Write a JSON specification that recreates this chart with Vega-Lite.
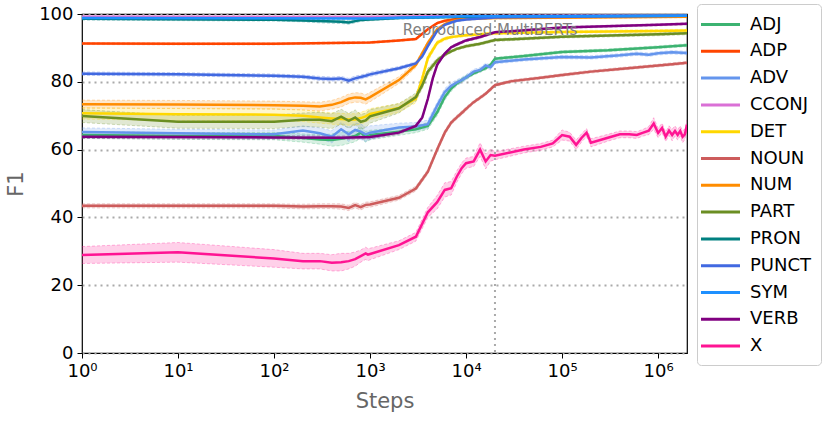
{
  "$schema": "https://vega.github.io/schema/vega-lite/v6.json",
  "width": 605,
  "height": 339,
  "autosize": {"type": "none"},
  "padding": {"left": 82, "top": 14, "right": 143, "bottom": 68},
  "background": "white",
  "datasets": {
    "f1": [
      {"tag": "ADJ", "step": 1, "f1": 64.3, "lo": 63.3, "hi": 65.3},
      {"tag": "ADJ", "step": 10, "f1": 64.0, "lo": 63.0, "hi": 65.0},
      {"tag": "ADJ", "step": 100, "f1": 64.0, "lo": 62.9, "hi": 65.1},
      {"tag": "ADJ", "step": 200, "f1": 63.4, "lo": 62.2, "hi": 64.6},
      {"tag": "ADJ", "step": 300, "f1": 63.0, "lo": 61.6, "hi": 64.4},
      {"tag": "ADJ", "step": 400, "f1": 62.8, "lo": 61.0, "hi": 64.6},
      {"tag": "ADJ", "step": 500, "f1": 63.2, "lo": 61.2, "hi": 65.2},
      {"tag": "ADJ", "step": 600, "f1": 63.6, "lo": 61.8, "hi": 65.4},
      {"tag": "ADJ", "step": 700, "f1": 64.0, "lo": 62.3, "hi": 65.7},
      {"tag": "ADJ", "step": 800, "f1": 65.0, "lo": 63.4, "hi": 66.6},
      {"tag": "ADJ", "step": 900, "f1": 63.8, "lo": 62.2, "hi": 65.4},
      {"tag": "ADJ", "step": 1000, "f1": 64.3, "lo": 62.9, "hi": 65.7},
      {"tag": "ADJ", "step": 2000, "f1": 65.3, "lo": 64.2, "hi": 66.4},
      {"tag": "ADJ", "step": 3000, "f1": 66.0, "lo": 65.0, "hi": 67.0},
      {"tag": "ADJ", "step": 4000, "f1": 67.0, "lo": 66.0, "hi": 68.0},
      {"tag": "ADJ", "step": 5000, "f1": 71.0, "lo": 70.0, "hi": 72.0},
      {"tag": "ADJ", "step": 6000, "f1": 75.5, "lo": 74.6, "hi": 76.4},
      {"tag": "ADJ", "step": 7000, "f1": 78.0, "lo": 77.2, "hi": 78.8},
      {"tag": "ADJ", "step": 8000, "f1": 79.5, "lo": 78.8, "hi": 80.2},
      {"tag": "ADJ", "step": 9000, "f1": 80.5, "lo": 79.9, "hi": 81.1},
      {"tag": "ADJ", "step": 10000, "f1": 81.3, "lo": 80.7, "hi": 81.9},
      {"tag": "ADJ", "step": 12000, "f1": 82.5, "lo": 82.0, "hi": 83.0},
      {"tag": "ADJ", "step": 14000, "f1": 83.3, "lo": 82.8, "hi": 83.8},
      {"tag": "ADJ", "step": 16000, "f1": 84.0, "lo": 83.5, "hi": 84.5},
      {"tag": "ADJ", "step": 18000, "f1": 85.0, "lo": 84.5, "hi": 85.5},
      {"tag": "ADJ", "step": 20000, "f1": 86.8, "lo": 86.4, "hi": 87.2},
      {"tag": "ADJ", "step": 40000, "f1": 87.6, "lo": 87.2, "hi": 88.0},
      {"tag": "ADJ", "step": 100000, "f1": 88.8, "lo": 88.4, "hi": 89.2},
      {"tag": "ADJ", "step": 300000, "f1": 89.3, "lo": 88.9, "hi": 89.7},
      {"tag": "ADJ", "step": 1000000, "f1": 90.2, "lo": 89.8, "hi": 90.6},
      {"tag": "ADJ", "step": 2000000, "f1": 90.8, "lo": 90.4, "hi": 91.2},

      {"tag": "ADP", "step": 1, "f1": 91.3, "lo": 91.0, "hi": 91.6},
      {"tag": "ADP", "step": 10, "f1": 91.2, "lo": 90.9, "hi": 91.5},
      {"tag": "ADP", "step": 100, "f1": 91.2, "lo": 90.9, "hi": 91.5},
      {"tag": "ADP", "step": 1000, "f1": 91.6, "lo": 91.3, "hi": 91.9},
      {"tag": "ADP", "step": 2000, "f1": 92.2, "lo": 91.9, "hi": 92.5},
      {"tag": "ADP", "step": 3000, "f1": 92.6, "lo": 92.3, "hi": 92.9},
      {"tag": "ADP", "step": 4000, "f1": 95.5, "lo": 95.2, "hi": 95.8},
      {"tag": "ADP", "step": 5000, "f1": 97.3, "lo": 97.0, "hi": 97.6},
      {"tag": "ADP", "step": 6000, "f1": 98.0, "lo": 97.8, "hi": 98.2},
      {"tag": "ADP", "step": 8000, "f1": 98.5, "lo": 98.3, "hi": 98.7},
      {"tag": "ADP", "step": 10000, "f1": 98.8, "lo": 98.6, "hi": 99.0},
      {"tag": "ADP", "step": 20000, "f1": 99.0, "lo": 98.8, "hi": 99.2},
      {"tag": "ADP", "step": 2000000, "f1": 99.3, "lo": 99.1, "hi": 99.5},

      {"tag": "ADV", "step": 1, "f1": 65.2, "lo": 64.0, "hi": 66.4},
      {"tag": "ADV", "step": 10, "f1": 64.8, "lo": 63.6, "hi": 66.0},
      {"tag": "ADV", "step": 100, "f1": 64.5, "lo": 63.2, "hi": 65.8},
      {"tag": "ADV", "step": 200, "f1": 65.6, "lo": 64.2, "hi": 67.0},
      {"tag": "ADV", "step": 300, "f1": 64.8, "lo": 63.2, "hi": 66.4},
      {"tag": "ADV", "step": 400, "f1": 63.8, "lo": 62.0, "hi": 65.6},
      {"tag": "ADV", "step": 500, "f1": 66.0, "lo": 64.0, "hi": 68.0},
      {"tag": "ADV", "step": 600, "f1": 64.5, "lo": 62.4, "hi": 66.6},
      {"tag": "ADV", "step": 700, "f1": 65.8, "lo": 63.8, "hi": 67.8},
      {"tag": "ADV", "step": 800, "f1": 65.3, "lo": 63.0, "hi": 67.6},
      {"tag": "ADV", "step": 900, "f1": 64.5, "lo": 62.4, "hi": 66.6},
      {"tag": "ADV", "step": 1000, "f1": 65.0, "lo": 63.0, "hi": 67.0},
      {"tag": "ADV", "step": 2000, "f1": 66.5, "lo": 65.2, "hi": 67.8},
      {"tag": "ADV", "step": 3000, "f1": 66.8, "lo": 65.6, "hi": 68.0},
      {"tag": "ADV", "step": 4000, "f1": 67.5, "lo": 66.3, "hi": 68.7},
      {"tag": "ADV", "step": 5000, "f1": 73.0, "lo": 72.0, "hi": 74.0},
      {"tag": "ADV", "step": 6000, "f1": 77.0, "lo": 76.0, "hi": 78.0},
      {"tag": "ADV", "step": 7000, "f1": 78.8, "lo": 77.9, "hi": 79.7},
      {"tag": "ADV", "step": 8000, "f1": 79.8, "lo": 79.0, "hi": 80.6},
      {"tag": "ADV", "step": 9000, "f1": 80.5, "lo": 79.7, "hi": 81.3},
      {"tag": "ADV", "step": 10000, "f1": 81.3, "lo": 80.5, "hi": 82.1},
      {"tag": "ADV", "step": 12000, "f1": 83.0, "lo": 82.3, "hi": 83.7},
      {"tag": "ADV", "step": 14000, "f1": 83.5, "lo": 82.8, "hi": 84.2},
      {"tag": "ADV", "step": 16000, "f1": 84.8, "lo": 84.1, "hi": 85.5},
      {"tag": "ADV", "step": 18000, "f1": 84.3, "lo": 83.6, "hi": 85.0},
      {"tag": "ADV", "step": 20000, "f1": 85.8, "lo": 85.3, "hi": 86.3},
      {"tag": "ADV", "step": 40000, "f1": 86.6, "lo": 86.1, "hi": 87.1},
      {"tag": "ADV", "step": 100000, "f1": 87.3, "lo": 86.8, "hi": 87.8},
      {"tag": "ADV", "step": 200000, "f1": 87.2, "lo": 86.7, "hi": 87.7},
      {"tag": "ADV", "step": 400000, "f1": 87.8, "lo": 87.3, "hi": 88.3},
      {"tag": "ADV", "step": 600000, "f1": 88.3, "lo": 87.8, "hi": 88.8},
      {"tag": "ADV", "step": 800000, "f1": 88.0, "lo": 87.5, "hi": 88.5},
      {"tag": "ADV", "step": 1000000, "f1": 88.4, "lo": 87.9, "hi": 88.9},
      {"tag": "ADV", "step": 1400000, "f1": 88.7, "lo": 88.2, "hi": 89.2},
      {"tag": "ADV", "step": 2000000, "f1": 88.5, "lo": 88.0, "hi": 89.0},

      {"tag": "CCONJ", "step": 1, "f1": 99.2, "lo": 98.9, "hi": 99.5},
      {"tag": "CCONJ", "step": 1000, "f1": 99.1, "lo": 98.8, "hi": 99.4},
      {"tag": "CCONJ", "step": 5000, "f1": 99.3, "lo": 99.0, "hi": 99.6},
      {"tag": "CCONJ", "step": 2000000, "f1": 99.6, "lo": 99.4, "hi": 99.8},

      {"tag": "DET", "step": 1, "f1": 70.7, "lo": 69.0, "hi": 72.4},
      {"tag": "DET", "step": 10, "f1": 70.4, "lo": 68.6, "hi": 72.2},
      {"tag": "DET", "step": 100, "f1": 70.3, "lo": 68.5, "hi": 72.1},
      {"tag": "DET", "step": 200, "f1": 70.0, "lo": 68.3, "hi": 71.7},
      {"tag": "DET", "step": 300, "f1": 69.5, "lo": 67.8, "hi": 71.2},
      {"tag": "DET", "step": 400, "f1": 69.2, "lo": 67.5, "hi": 70.9},
      {"tag": "DET", "step": 500, "f1": 69.0, "lo": 67.3, "hi": 70.7},
      {"tag": "DET", "step": 600, "f1": 68.9, "lo": 67.2, "hi": 70.6},
      {"tag": "DET", "step": 700, "f1": 68.9, "lo": 67.2, "hi": 70.6},
      {"tag": "DET", "step": 800, "f1": 69.3, "lo": 67.6, "hi": 71.0},
      {"tag": "DET", "step": 900, "f1": 69.8, "lo": 68.1, "hi": 71.5},
      {"tag": "DET", "step": 1000, "f1": 70.5, "lo": 68.9, "hi": 72.1},
      {"tag": "DET", "step": 2000, "f1": 72.3, "lo": 71.0, "hi": 73.6},
      {"tag": "DET", "step": 3000, "f1": 75.0, "lo": 73.8, "hi": 76.2},
      {"tag": "DET", "step": 3500, "f1": 81.0, "lo": 79.8, "hi": 82.2},
      {"tag": "DET", "step": 4000, "f1": 87.0, "lo": 86.0, "hi": 88.0},
      {"tag": "DET", "step": 5000, "f1": 91.5, "lo": 90.9, "hi": 92.1},
      {"tag": "DET", "step": 6000, "f1": 92.7, "lo": 92.2, "hi": 93.2},
      {"tag": "DET", "step": 7000, "f1": 93.2, "lo": 92.8, "hi": 93.6},
      {"tag": "DET", "step": 8000, "f1": 93.4, "lo": 93.0, "hi": 93.8},
      {"tag": "DET", "step": 10000, "f1": 93.7, "lo": 93.3, "hi": 94.1},
      {"tag": "DET", "step": 20000, "f1": 94.3, "lo": 93.9, "hi": 94.7},
      {"tag": "DET", "step": 100000, "f1": 94.7, "lo": 94.3, "hi": 95.1},
      {"tag": "DET", "step": 1000000, "f1": 95.0, "lo": 94.6, "hi": 95.4},
      {"tag": "DET", "step": 2000000, "f1": 95.1, "lo": 94.7, "hi": 95.5},

      {"tag": "NOUN", "step": 1, "f1": 43.4, "lo": 42.8, "hi": 44.0},
      {"tag": "NOUN", "step": 10, "f1": 43.4, "lo": 42.8, "hi": 44.0},
      {"tag": "NOUN", "step": 100, "f1": 43.4, "lo": 42.8, "hi": 44.0},
      {"tag": "NOUN", "step": 200, "f1": 43.2, "lo": 42.5, "hi": 43.9},
      {"tag": "NOUN", "step": 300, "f1": 43.3, "lo": 42.6, "hi": 44.0},
      {"tag": "NOUN", "step": 400, "f1": 43.3, "lo": 42.6, "hi": 44.0},
      {"tag": "NOUN", "step": 500, "f1": 43.2, "lo": 42.4, "hi": 44.0},
      {"tag": "NOUN", "step": 600, "f1": 42.8, "lo": 42.0, "hi": 43.6},
      {"tag": "NOUN", "step": 700, "f1": 43.6, "lo": 42.8, "hi": 44.4},
      {"tag": "NOUN", "step": 800, "f1": 43.0, "lo": 42.2, "hi": 43.8},
      {"tag": "NOUN", "step": 900, "f1": 43.7, "lo": 42.9, "hi": 44.5},
      {"tag": "NOUN", "step": 1000, "f1": 43.8, "lo": 43.0, "hi": 44.6},
      {"tag": "NOUN", "step": 2000, "f1": 45.8, "lo": 45.1, "hi": 46.5},
      {"tag": "NOUN", "step": 3000, "f1": 48.5, "lo": 47.8, "hi": 49.2},
      {"tag": "NOUN", "step": 4000, "f1": 53.5, "lo": 52.8, "hi": 54.2},
      {"tag": "NOUN", "step": 5000, "f1": 60.0, "lo": 59.3, "hi": 60.7},
      {"tag": "NOUN", "step": 6000, "f1": 65.0, "lo": 64.3, "hi": 65.7},
      {"tag": "NOUN", "step": 7000, "f1": 68.0, "lo": 67.4, "hi": 68.6},
      {"tag": "NOUN", "step": 8000, "f1": 69.5, "lo": 68.9, "hi": 70.1},
      {"tag": "NOUN", "step": 9000, "f1": 70.8, "lo": 70.2, "hi": 71.4},
      {"tag": "NOUN", "step": 10000, "f1": 72.0, "lo": 71.4, "hi": 72.6},
      {"tag": "NOUN", "step": 12000, "f1": 74.0, "lo": 73.5, "hi": 74.5},
      {"tag": "NOUN", "step": 14000, "f1": 75.3, "lo": 74.8, "hi": 75.8},
      {"tag": "NOUN", "step": 16000, "f1": 76.5, "lo": 76.0, "hi": 77.0},
      {"tag": "NOUN", "step": 18000, "f1": 77.8, "lo": 77.3, "hi": 78.3},
      {"tag": "NOUN", "step": 20000, "f1": 79.0, "lo": 78.6, "hi": 79.4},
      {"tag": "NOUN", "step": 30000, "f1": 80.2, "lo": 79.8, "hi": 80.6},
      {"tag": "NOUN", "step": 60000, "f1": 81.2, "lo": 80.8, "hi": 81.6},
      {"tag": "NOUN", "step": 100000, "f1": 82.0, "lo": 81.6, "hi": 82.4},
      {"tag": "NOUN", "step": 200000, "f1": 83.0, "lo": 82.6, "hi": 83.4},
      {"tag": "NOUN", "step": 400000, "f1": 83.8, "lo": 83.4, "hi": 84.2},
      {"tag": "NOUN", "step": 1000000, "f1": 84.8, "lo": 84.4, "hi": 85.2},
      {"tag": "NOUN", "step": 1400000, "f1": 85.2, "lo": 84.8, "hi": 85.6},
      {"tag": "NOUN", "step": 2000000, "f1": 85.6, "lo": 85.2, "hi": 86.0},

      {"tag": "NUM", "step": 1, "f1": 73.4, "lo": 72.2, "hi": 74.6},
      {"tag": "NUM", "step": 10, "f1": 73.3, "lo": 72.1, "hi": 74.5},
      {"tag": "NUM", "step": 100, "f1": 73.1, "lo": 71.9, "hi": 74.3},
      {"tag": "NUM", "step": 200, "f1": 72.9, "lo": 71.7, "hi": 74.1},
      {"tag": "NUM", "step": 300, "f1": 72.7, "lo": 71.4, "hi": 74.0},
      {"tag": "NUM", "step": 400, "f1": 73.2, "lo": 71.9, "hi": 74.5},
      {"tag": "NUM", "step": 500, "f1": 74.0, "lo": 72.6, "hi": 75.4},
      {"tag": "NUM", "step": 600, "f1": 75.0, "lo": 73.6, "hi": 76.4},
      {"tag": "NUM", "step": 700, "f1": 75.4, "lo": 74.0, "hi": 76.8},
      {"tag": "NUM", "step": 800, "f1": 75.3, "lo": 73.9, "hi": 76.7},
      {"tag": "NUM", "step": 900, "f1": 74.8, "lo": 73.4, "hi": 76.2},
      {"tag": "NUM", "step": 1000, "f1": 75.5, "lo": 74.1, "hi": 76.9},
      {"tag": "NUM", "step": 2000, "f1": 80.5, "lo": 79.5, "hi": 81.5},
      {"tag": "NUM", "step": 3000, "f1": 85.0, "lo": 84.2, "hi": 85.8},
      {"tag": "NUM", "step": 4000, "f1": 91.5, "lo": 91.0, "hi": 92.0},
      {"tag": "NUM", "step": 5000, "f1": 95.5, "lo": 95.1, "hi": 95.9},
      {"tag": "NUM", "step": 6000, "f1": 97.0, "lo": 96.7, "hi": 97.3},
      {"tag": "NUM", "step": 7000, "f1": 97.8, "lo": 97.5, "hi": 98.1},
      {"tag": "NUM", "step": 8000, "f1": 98.2, "lo": 97.9, "hi": 98.5},
      {"tag": "NUM", "step": 10000, "f1": 98.5, "lo": 98.2, "hi": 98.8},
      {"tag": "NUM", "step": 20000, "f1": 98.8, "lo": 98.5, "hi": 99.1},
      {"tag": "NUM", "step": 2000000, "f1": 99.2, "lo": 98.9, "hi": 99.5},

      {"tag": "PART", "step": 1, "f1": 69.9, "lo": 68.0, "hi": 71.8},
      {"tag": "PART", "step": 10, "f1": 68.2, "lo": 66.3, "hi": 70.1},
      {"tag": "PART", "step": 100, "f1": 68.2, "lo": 66.2, "hi": 70.2},
      {"tag": "PART", "step": 200, "f1": 68.8, "lo": 66.8, "hi": 70.8},
      {"tag": "PART", "step": 300, "f1": 68.8, "lo": 66.6, "hi": 71.0},
      {"tag": "PART", "step": 400, "f1": 68.4, "lo": 66.2, "hi": 70.6},
      {"tag": "PART", "step": 500, "f1": 69.7, "lo": 67.5, "hi": 71.9},
      {"tag": "PART", "step": 600, "f1": 68.5, "lo": 66.3, "hi": 70.7},
      {"tag": "PART", "step": 700, "f1": 69.5, "lo": 67.3, "hi": 71.7},
      {"tag": "PART", "step": 800, "f1": 68.2, "lo": 66.0, "hi": 70.4},
      {"tag": "PART", "step": 900, "f1": 68.6, "lo": 66.5, "hi": 70.7},
      {"tag": "PART", "step": 1000, "f1": 69.8, "lo": 67.8, "hi": 71.8},
      {"tag": "PART", "step": 2000, "f1": 72.2, "lo": 70.8, "hi": 73.6},
      {"tag": "PART", "step": 3000, "f1": 75.5, "lo": 74.3, "hi": 76.7},
      {"tag": "PART", "step": 3500, "f1": 79.0, "lo": 78.0, "hi": 80.0},
      {"tag": "PART", "step": 4000, "f1": 83.0, "lo": 82.0, "hi": 84.0},
      {"tag": "PART", "step": 5000, "f1": 86.3, "lo": 85.6, "hi": 87.0},
      {"tag": "PART", "step": 6000, "f1": 88.0, "lo": 87.5, "hi": 88.5},
      {"tag": "PART", "step": 7000, "f1": 89.0, "lo": 88.6, "hi": 89.4},
      {"tag": "PART", "step": 8000, "f1": 89.7, "lo": 89.3, "hi": 90.1},
      {"tag": "PART", "step": 10000, "f1": 90.5, "lo": 90.1, "hi": 90.9},
      {"tag": "PART", "step": 14000, "f1": 91.2, "lo": 90.8, "hi": 91.6},
      {"tag": "PART", "step": 20000, "f1": 92.3, "lo": 91.9, "hi": 92.7},
      {"tag": "PART", "step": 100000, "f1": 93.3, "lo": 92.9, "hi": 93.7},
      {"tag": "PART", "step": 1000000, "f1": 94.0, "lo": 93.6, "hi": 94.4},
      {"tag": "PART", "step": 2000000, "f1": 94.3, "lo": 93.9, "hi": 94.7},

      {"tag": "PRON", "step": 1, "f1": 98.6, "lo": 98.2, "hi": 99.0},
      {"tag": "PRON", "step": 100, "f1": 98.3, "lo": 97.9, "hi": 98.7},
      {"tag": "PRON", "step": 200, "f1": 98.1, "lo": 97.7, "hi": 98.5},
      {"tag": "PRON", "step": 300, "f1": 97.9, "lo": 97.4, "hi": 98.4},
      {"tag": "PRON", "step": 500, "f1": 97.7, "lo": 97.2, "hi": 98.2},
      {"tag": "PRON", "step": 600, "f1": 97.5, "lo": 97.0, "hi": 98.0},
      {"tag": "PRON", "step": 700, "f1": 97.9, "lo": 97.4, "hi": 98.4},
      {"tag": "PRON", "step": 800, "f1": 98.2, "lo": 97.8, "hi": 98.6},
      {"tag": "PRON", "step": 1000, "f1": 98.4, "lo": 98.0, "hi": 98.8},
      {"tag": "PRON", "step": 2000, "f1": 98.8, "lo": 98.5, "hi": 99.1},
      {"tag": "PRON", "step": 10000, "f1": 99.2, "lo": 98.9, "hi": 99.5},
      {"tag": "PRON", "step": 2000000, "f1": 99.5, "lo": 99.3, "hi": 99.7},

      {"tag": "PUNCT", "step": 1, "f1": 82.4, "lo": 81.9, "hi": 82.9},
      {"tag": "PUNCT", "step": 10, "f1": 82.2, "lo": 81.7, "hi": 82.7},
      {"tag": "PUNCT", "step": 100, "f1": 81.8, "lo": 81.3, "hi": 82.3},
      {"tag": "PUNCT", "step": 200, "f1": 81.5, "lo": 81.0, "hi": 82.0},
      {"tag": "PUNCT", "step": 300, "f1": 81.0, "lo": 80.4, "hi": 81.6},
      {"tag": "PUNCT", "step": 400, "f1": 80.8, "lo": 80.2, "hi": 81.4},
      {"tag": "PUNCT", "step": 500, "f1": 81.0, "lo": 80.4, "hi": 81.6},
      {"tag": "PUNCT", "step": 600, "f1": 80.3, "lo": 79.6, "hi": 81.0},
      {"tag": "PUNCT", "step": 700, "f1": 81.0, "lo": 80.3, "hi": 81.7},
      {"tag": "PUNCT", "step": 800, "f1": 81.4, "lo": 80.8, "hi": 82.0},
      {"tag": "PUNCT", "step": 900, "f1": 81.8, "lo": 81.2, "hi": 82.4},
      {"tag": "PUNCT", "step": 1000, "f1": 82.2, "lo": 81.6, "hi": 82.8},
      {"tag": "PUNCT", "step": 2000, "f1": 84.0, "lo": 83.5, "hi": 84.5},
      {"tag": "PUNCT", "step": 3000, "f1": 85.4, "lo": 84.9, "hi": 85.9},
      {"tag": "PUNCT", "step": 3500, "f1": 87.5, "lo": 87.0, "hi": 88.0},
      {"tag": "PUNCT", "step": 4000, "f1": 90.5, "lo": 90.0, "hi": 91.0},
      {"tag": "PUNCT", "step": 5000, "f1": 95.0, "lo": 94.6, "hi": 95.4},
      {"tag": "PUNCT", "step": 6000, "f1": 96.8, "lo": 96.5, "hi": 97.1},
      {"tag": "PUNCT", "step": 7000, "f1": 97.5, "lo": 97.2, "hi": 97.8},
      {"tag": "PUNCT", "step": 8000, "f1": 98.0, "lo": 97.7, "hi": 98.3},
      {"tag": "PUNCT", "step": 10000, "f1": 98.4, "lo": 98.1, "hi": 98.7},
      {"tag": "PUNCT", "step": 20000, "f1": 99.0, "lo": 98.8, "hi": 99.2},
      {"tag": "PUNCT", "step": 2000000, "f1": 99.5, "lo": 99.3, "hi": 99.7},

      {"tag": "SYM", "step": 1, "f1": 98.8, "lo": 98.5, "hi": 99.1},
      {"tag": "SYM", "step": 1000, "f1": 98.7, "lo": 98.4, "hi": 99.0},
      {"tag": "SYM", "step": 2000, "f1": 98.9, "lo": 98.6, "hi": 99.2},
      {"tag": "SYM", "step": 5000, "f1": 99.1, "lo": 98.8, "hi": 99.4},
      {"tag": "SYM", "step": 10000, "f1": 99.3, "lo": 99.0, "hi": 99.6},
      {"tag": "SYM", "step": 2000000, "f1": 99.5, "lo": 99.3, "hi": 99.7},

      {"tag": "VERB", "step": 1, "f1": 63.8, "lo": 63.3, "hi": 64.3},
      {"tag": "VERB", "step": 10, "f1": 63.7, "lo": 63.2, "hi": 64.2},
      {"tag": "VERB", "step": 100, "f1": 63.6, "lo": 63.1, "hi": 64.1},
      {"tag": "VERB", "step": 500, "f1": 63.5, "lo": 63.0, "hi": 64.0},
      {"tag": "VERB", "step": 1000, "f1": 63.7, "lo": 63.2, "hi": 64.2},
      {"tag": "VERB", "step": 2000, "f1": 65.0, "lo": 64.5, "hi": 65.5},
      {"tag": "VERB", "step": 3000, "f1": 67.0, "lo": 66.5, "hi": 67.5},
      {"tag": "VERB", "step": 3500, "f1": 69.5, "lo": 69.0, "hi": 70.0},
      {"tag": "VERB", "step": 4000, "f1": 75.0, "lo": 74.4, "hi": 75.6},
      {"tag": "VERB", "step": 4500, "f1": 81.0, "lo": 80.4, "hi": 81.6},
      {"tag": "VERB", "step": 5000, "f1": 85.0, "lo": 84.5, "hi": 85.5},
      {"tag": "VERB", "step": 6000, "f1": 88.3, "lo": 87.9, "hi": 88.7},
      {"tag": "VERB", "step": 7000, "f1": 90.2, "lo": 89.8, "hi": 90.6},
      {"tag": "VERB", "step": 8000, "f1": 91.0, "lo": 90.6, "hi": 91.4},
      {"tag": "VERB", "step": 10000, "f1": 92.2, "lo": 91.8, "hi": 92.6},
      {"tag": "VERB", "step": 14000, "f1": 93.2, "lo": 92.8, "hi": 93.6},
      {"tag": "VERB", "step": 20000, "f1": 94.6, "lo": 94.3, "hi": 94.9},
      {"tag": "VERB", "step": 100000, "f1": 96.0, "lo": 95.7, "hi": 96.3},
      {"tag": "VERB", "step": 1000000, "f1": 96.8, "lo": 96.5, "hi": 97.1},
      {"tag": "VERB", "step": 2000000, "f1": 97.1, "lo": 96.8, "hi": 97.4},

      {"tag": "X", "step": 1, "f1": 28.9, "lo": 26.4, "hi": 31.4},
      {"tag": "X", "step": 10, "f1": 29.7, "lo": 26.8, "hi": 32.6},
      {"tag": "X", "step": 100, "f1": 27.9, "lo": 25.3, "hi": 30.5},
      {"tag": "X", "step": 200, "f1": 27.1, "lo": 24.8, "hi": 29.4},
      {"tag": "X", "step": 300, "f1": 27.1, "lo": 24.8, "hi": 29.4},
      {"tag": "X", "step": 400, "f1": 26.6, "lo": 24.2, "hi": 29.0},
      {"tag": "X", "step": 500, "f1": 26.8, "lo": 24.2, "hi": 29.4},
      {"tag": "X", "step": 600, "f1": 27.1, "lo": 24.8, "hi": 29.4},
      {"tag": "X", "step": 700, "f1": 27.7, "lo": 25.6, "hi": 29.8},
      {"tag": "X", "step": 800, "f1": 28.6, "lo": 26.8, "hi": 30.4},
      {"tag": "X", "step": 900, "f1": 29.4, "lo": 27.6, "hi": 31.2},
      {"tag": "X", "step": 950, "f1": 29.0, "lo": 27.2, "hi": 30.8},
      {"tag": "X", "step": 1000, "f1": 29.2, "lo": 27.5, "hi": 30.9},
      {"tag": "X", "step": 2000, "f1": 31.8, "lo": 30.5, "hi": 33.1},
      {"tag": "X", "step": 3000, "f1": 34.3, "lo": 33.0, "hi": 35.6},
      {"tag": "X", "step": 4000, "f1": 41.5, "lo": 40.0, "hi": 43.0},
      {"tag": "X", "step": 5000, "f1": 44.5, "lo": 42.5, "hi": 46.5},
      {"tag": "X", "step": 6000, "f1": 48.1, "lo": 46.0, "hi": 50.2},
      {"tag": "X", "step": 7000, "f1": 48.6, "lo": 46.6, "hi": 50.6},
      {"tag": "X", "step": 8000, "f1": 52.0, "lo": 50.3, "hi": 53.7},
      {"tag": "X", "step": 9000, "f1": 54.5, "lo": 52.9, "hi": 56.1},
      {"tag": "X", "step": 10000, "f1": 56.0, "lo": 54.5, "hi": 57.5},
      {"tag": "X", "step": 12000, "f1": 56.5, "lo": 55.0, "hi": 58.0},
      {"tag": "X", "step": 14000, "f1": 60.0, "lo": 58.0, "hi": 62.0},
      {"tag": "X", "step": 16000, "f1": 56.5, "lo": 54.3, "hi": 58.7},
      {"tag": "X", "step": 18000, "f1": 58.4, "lo": 56.6, "hi": 60.2},
      {"tag": "X", "step": 20000, "f1": 58.2, "lo": 57.0, "hi": 59.4},
      {"tag": "X", "step": 40000, "f1": 60.0, "lo": 59.0, "hi": 61.0},
      {"tag": "X", "step": 60000, "f1": 60.8, "lo": 59.8, "hi": 61.8},
      {"tag": "X", "step": 80000, "f1": 61.8, "lo": 60.8, "hi": 62.8},
      {"tag": "X", "step": 100000, "f1": 64.3, "lo": 62.8, "hi": 65.8},
      {"tag": "X", "step": 120000, "f1": 63.8, "lo": 62.5, "hi": 65.1},
      {"tag": "X", "step": 140000, "f1": 61.4, "lo": 60.0, "hi": 62.8},
      {"tag": "X", "step": 160000, "f1": 63.5, "lo": 62.3, "hi": 64.7},
      {"tag": "X", "step": 180000, "f1": 65.0, "lo": 63.8, "hi": 66.2},
      {"tag": "X", "step": 200000, "f1": 62.0, "lo": 60.8, "hi": 63.2},
      {"tag": "X", "step": 300000, "f1": 63.5, "lo": 62.5, "hi": 64.5},
      {"tag": "X", "step": 400000, "f1": 64.5, "lo": 63.5, "hi": 65.5},
      {"tag": "X", "step": 500000, "f1": 64.5, "lo": 63.5, "hi": 65.5},
      {"tag": "X", "step": 600000, "f1": 64.3, "lo": 63.3, "hi": 65.3},
      {"tag": "X", "step": 700000, "f1": 65.0, "lo": 64.0, "hi": 66.0},
      {"tag": "X", "step": 800000, "f1": 65.6, "lo": 64.4, "hi": 66.8},
      {"tag": "X", "step": 900000, "f1": 67.7, "lo": 66.0, "hi": 69.4},
      {"tag": "X", "step": 1000000, "f1": 64.9, "lo": 63.5, "hi": 66.3},
      {"tag": "X", "step": 1100000, "f1": 66.4, "lo": 65.0, "hi": 67.8},
      {"tag": "X", "step": 1200000, "f1": 63.8, "lo": 62.4, "hi": 65.2},
      {"tag": "X", "step": 1300000, "f1": 65.6, "lo": 64.2, "hi": 67.0},
      {"tag": "X", "step": 1400000, "f1": 64.3, "lo": 62.6, "hi": 66.0},
      {"tag": "X", "step": 1500000, "f1": 65.5, "lo": 64.0, "hi": 67.0},
      {"tag": "X", "step": 1600000, "f1": 64.3, "lo": 62.8, "hi": 65.8},
      {"tag": "X", "step": 1700000, "f1": 65.5, "lo": 64.0, "hi": 67.0},
      {"tag": "X", "step": 1800000, "f1": 63.8, "lo": 62.0, "hi": 65.6},
      {"tag": "X", "step": 1900000, "f1": 64.5, "lo": 63.0, "hi": 66.0},
      {"tag": "X", "step": 2000000, "f1": 67.3, "lo": 65.8, "hi": 68.8}
    ],
    "marker": [
      {"step": 20000, "f1": 95.3, "label": "Reproduced MultiBERTs"}
    ]
  },
  "layer": [
    {
      "data": {"name": "f1"},
      "mark": {"type": "area", "fillOpacity": 0.2, "clip": true},
      "encoding": {
        "x": {"field": "step", "type": "quantitative"},
        "y": {"field": "lo", "type": "quantitative"},
        "y2": {"field": "hi"},
        "color": {"field": "tag", "type": "nominal"},
        "detail": {"field": "tag"}
      }
    },
    {
      "data": {"name": "f1"},
      "mark": {"type": "line", "strokeWidth": 1, "strokeDash": [3, 2], "strokeOpacity": 0.3, "clip": true},
      "encoding": {
        "x": {"field": "step", "type": "quantitative"},
        "y": {"field": "lo", "type": "quantitative"},
        "color": {"field": "tag", "type": "nominal"}
      }
    },
    {
      "data": {"name": "f1"},
      "mark": {"type": "line", "strokeWidth": 1, "strokeDash": [3, 2], "strokeOpacity": 0.3, "clip": true},
      "encoding": {
        "x": {"field": "step", "type": "quantitative"},
        "y": {"field": "hi", "type": "quantitative"},
        "color": {"field": "tag", "type": "nominal"}
      }
    },
    {
      "data": {"name": "marker"},
      "mark": {"type": "rule", "color": "#aaaaaa", "strokeWidth": 2, "strokeDash": [2, 4]},
      "encoding": {
        "x": {"field": "step", "type": "quantitative"}
      }
    },
    {
      "data": {"name": "f1"},
      "mark": {"type": "line", "strokeWidth": 2.5, "clip": true},
      "encoding": {
        "x": {
          "field": "step",
          "type": "quantitative",
          "title": "Steps",
          "scale": {"type": "log", "domain": [1, 2000000], "nice": false},
          "axis": {
            "values": [1, 10, 100, 1000, 10000, 100000, 1000000],
            "labelExpr": "'10' + ['⁰','¹','²','³','⁴','⁵','⁶'][round(log(datum.value) / LN10)]",
            "labelFlush": false,
            "grid": false,
            "titlePadding": 10
          }
        },
        "y": {
          "field": "f1",
          "type": "quantitative",
          "title": "F1",
          "scale": {"domain": [0, 100], "nice": false},
          "axis": {
            "values": [0, 20, 40, 60, 80, 100],
            "grid": true,
            "gridColor": "#aaaaaa",
            "gridWidth": 2,
            "gridDash": [2, 4],
            "titlePadding": 12
          }
        },
        "color": {
          "field": "tag",
          "type": "nominal",
          "title": null,
          "scale": {
            "domain": ["ADJ", "ADP", "ADV", "CCONJ", "DET", "NOUN", "NUM", "PART", "PRON", "PUNCT", "SYM", "VERB", "X"],
            "range": ["#3cb371", "#ff4500", "#6495ed", "#da70d6", "#ffd700", "#cd5c5c", "#ff8c00", "#6b8e23", "#008080", "#4169e1", "#1e90ff", "#800080", "#ff1493"]
          },
          "legend": {
            "orient": "none",
            "legendX": 615,
            "legendY": -10,
            "symbolType": "M-2,0H2",
            "symbolSize": 380,
            "symbolStrokeWidth": 3,
            "symbolOpacity": 1,
            "symbolDash": [],
            "encode": {
              "symbols": {
                "update": {
                  "opacity": {"value": 1},
                  "fillOpacity": {"value": 0},
                  "strokeOpacity": {"value": 1},
                  "strokeDash": {"value": []}
                }
              }
            }
          }
        }
      }
    },
    {
      "data": {"name": "marker"},
      "mark": {"type": "text", "color": "#808080", "fontSize": 15, "align": "center", "baseline": "middle", "dx": -5},
      "encoding": {
        "x": {"field": "step", "type": "quantitative"},
        "y": {"field": "f1", "type": "quantitative"},
        "text": {"field": "label"}
      }
    }
  ],
  "config": {
    "font": "DejaVu Sans",
    "view": {"stroke": "black", "strokeWidth": 1.2},
    "axis": {
      "domain": false,
      "tickColor": "black",
      "tickSize": 5,
      "labelColor": "black",
      "labelFontSize": 18,
      "labelPadding": 4,
      "titleFontSize": 21,
      "titleFontWeight": "normal",
      "titleColor": "#666666"
    },
    "legend": {
      "labelFontSize": 18,
      "labelColor": "black",
      "strokeColor": "#cccccc",
      "fillColor": "white",
      "cornerRadius": 4,
      "padding": 9,
      "rowPadding": 5.8,
      "symbolOffset": 3,
      "labelOffset": 18
    }
  }
}
